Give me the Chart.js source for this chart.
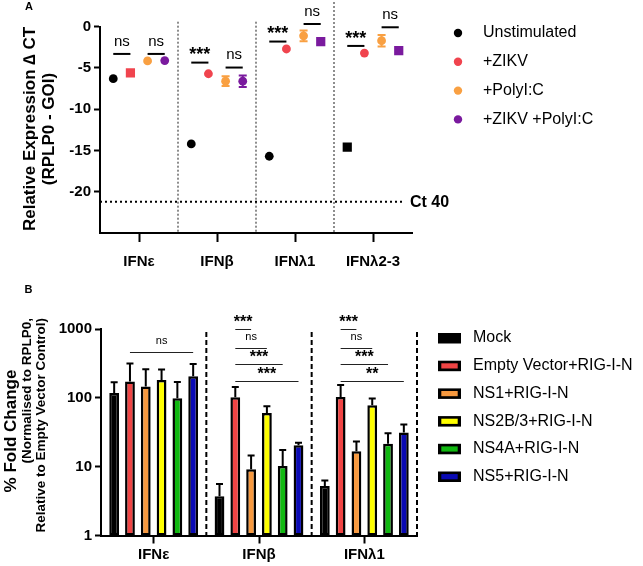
<!DOCTYPE html>
<html>
<head>
<meta charset="utf-8">
<script src="https://cdn.jsdelivr.net/npm/chart.js@4.4.0/dist/chart.umd.min.js"></script>
<style>
    body { margin: 0; background: #fff; }
    #chartA { position: absolute; left: 0; top: 0; }
    #chartB { position: absolute; left: 0; top: 285px; }
</style>
</head>
<body>
<canvas id="chartA" width="643" height="285"></canvas>
<canvas id="chartB" width="643" height="281"></canvas>
<script>
const FONT = '"Liberation Sans", Arial, sans-serif';

// ---- panel A : relative expression (delta CT) ----
const genesA = ['IFNε', 'IFNβ', 'IFNλ1', 'IFNλ2-3'];
const yTicksA = [0, -5, -10, -15, -20];
const unstim = [-6.3, -14.2, -15.7, -14.6];
const zikv = [-5.6, -5.7, -2.7, -3.2];
const polyIC = [-4.15, -6.6, -1.1, -1.7];
const zikvPolyIC = [-4.1, -6.6, -1.8, -2.9];
const unstimErr = [0, 0, 0, 0];
const zikvErr = [0, 0, 0, 0];
const polyICErr = [0, 0.6, 0.65, 0.7];
const zikvPolyICErr = [0, 0.7, 0, 0];
const unstimShape = ['circle', 'circle', 'circle', 'rect'];
const zikvShape = ['rect', 'circle', 'circle', 'circle'];
const polyICShape = ['circle', 'circle', 'circle', 'circle'];
const zikvPolyICShape = ['circle', 'circle', 'rect', 'rect'];
const ct40 = -21.2;
// [gene, from series, to series, label, y value]
const sigA = [
    [0, 0, 1, 'ns', -3.3], [0, 2, 3, 'ns', -3.3],
    [1, 0, 1, '***', -4.35], [1, 2, 3, 'ns', -4.95],
    [2, 0, 1, '***', -1.8], [2, 2, 3, 'ns', 0.33],
    [3, 0, 1, '***', -2.33], [3, 2, 3, 'ns', -0.07]
];

// ---- panel B : % fold change ----
const genesB = ['IFNε', 'IFNβ', 'IFNλ1'];
const yTicksB = [1, 10, 100, 1000];
const mock = [118, 3.73, 5.22];
const emptyVector = [173, 102, 103];
const ns1 = [146, 9.2, 16.7];
const ns2b3 = [182, 60.3, 78];
const ns4a = [99, 10.2, 21.6];
const ns5 = [206, 20.4, 31.3];
const mockErr = [51, 1.85, 1.1];
const emptyVectorErr = [143, 42, 51];
const ns1Err = [115, 5.3, 6.6];
const ns2b3Err = [76, 15.2, 19.7];
const ns4aErr = [71, 7.3, 8.9];
const ns5Err = [103, 1.9, 9.6];
// [gene, from series, to series, label, y value]
const sigB = [
    [0, 1, 5, 'ns', 466],
    [1, 1, 2, '***', 1000], [1, 1, 3, 'ns', 522], [1, 1, 4, '***', 305], [1, 1, 5, '***', 176],
    [2, 1, 2, '***', 1000], [2, 1, 3, 'ns', 522], [2, 1, 4, '***', 305], [2, 1, 5, '**', 176]
];

const seriesA = [
    { label: 'Unstimulated', values: unstim, err: unstimErr, shape: unstimShape, color: '#000000' },
    { label: '+ZIKV', values: zikv, err: zikvErr, shape: zikvShape, color: '#f0444e' },
    { label: '+PolyI:C', values: polyIC, err: polyICErr, shape: polyICShape, color: '#f9a042' },
    { label: '+ZIKV +PolyI:C', values: zikvPolyIC, err: zikvPolyICErr, shape: zikvPolyICShape, color: '#7a1a9e' }
];
const seriesB = [
    { label: 'Mock', values: mock, err: mockErr, color: '#000000' },
    { label: 'Empty Vector+RIG-I-N', values: emptyVector, err: emptyVectorErr, color: '#f04444' },
    { label: 'NS1+RIG-I-N', values: ns1, err: ns1Err, color: '#f7993f' },
    { label: 'NS2B/3+RIG-I-N', values: ns2b3, err: ns2b3Err, color: '#ffff00' },
    { label: 'NS4A+RIG-I-N', values: ns4a, err: ns4aErr, color: '#10b810' },
    { label: 'NS5+RIG-I-N', values: ns5, err: ns5Err, color: '#0a0ab4' }
];

const groupOffset = [-0.33, -0.11, 0.11, 0.33];

function sigText(ctx, label, x, y, big) {
    ctx.textAlign = 'center';
    ctx.textBaseline = 'alphabetic';
    ctx.fillStyle = '#000';
    if (label === 'ns') {
        ctx.font = (big ? '15px ' : '11px ') + FONT;
        ctx.fillText(label, x, y - (big ? 8.1 : 8.7));
    } else {
        ctx.font = 'bold ' + (big ? '18px ' : '16px ') + FONT;
        ctx.fillText(label, x, y - (big ? 2.3 : 3));
    }
}

function rotatedText(ctx, text, x, y, font, align) {
    ctx.save();
    ctx.translate(x, y);
    ctx.rotate(-Math.PI / 2);
    ctx.font = font;
    ctx.fillStyle = '#000';
    ctx.textAlign = align || 'center';
    ctx.textBaseline = 'middle';
    ctx.fillText(text, 0, 0);
    ctx.restore();
}

const panelAExtras = {
    id: 'panelAExtras',
    beforeDatasetsDraw(chart) {
        const { ctx, chartArea, scales: { x, y } } = chart;
        ctx.save();
        // dotted dividers between genes
        ctx.strokeStyle = '#444';
        ctx.lineWidth = 1.2;
        ctx.setLineDash([2, 2]);
        [0.5, 1.5, 2.5].forEach((b, i) => {
            const px = x.getPixelForValue(b);
            ctx.beginPath();
            ctx.moveTo(px, i === 2 ? 2 : chartArea.top - 5);
            ctx.lineTo(px, chartArea.bottom);
            ctx.stroke();
        });
        // Ct 40 line
        const cy = y.getPixelForValue(ct40);
        ctx.strokeStyle = '#000';
        ctx.lineWidth = 2;
        ctx.setLineDash([2, 3]);
        ctx.beginPath();
        ctx.moveTo(chartArea.left, cy);
        ctx.lineTo(chartArea.right - 7, cy);
        ctx.stroke();
        ctx.setLineDash([]);
        // error bars
        seriesA.forEach((s, k) => {
            ctx.strokeStyle = s.color;
            ctx.lineWidth = 2;
            s.values.forEach((v, i) => {
                if (!s.err[i]) return;
                const px = x.getPixelForValue(i + groupOffset[k]);
                const y1 = y.getPixelForValue(v + s.err[i]);
                const y2 = y.getPixelForValue(v - s.err[i]);
                ctx.beginPath();
                ctx.moveTo(px, y1); ctx.lineTo(px, y2);
                ctx.moveTo(px - 4, y1); ctx.lineTo(px + 4, y1);
                ctx.moveTo(px - 4, y2); ctx.lineTo(px + 4, y2);
                ctx.stroke();
            });
        });
        ctx.restore();
    },
    afterDatasetsDraw(chart) {
        const { ctx, chartArea, scales: { x, y } } = chart;
        ctx.save();
        // significance
        ctx.strokeStyle = '#000';
        ctx.lineWidth = 2;
        sigA.forEach(([g, a, b, label, v]) => {
            const x1 = x.getPixelForValue(g + groupOffset[a]);
            const x2 = x.getPixelForValue(g + groupOffset[b]);
            const py = y.getPixelForValue(v);
            ctx.beginPath();
            ctx.moveTo(x1, py); ctx.lineTo(x2, py);
            ctx.stroke();
            sigText(ctx, label, (x1 + x2) / 2, py, true);
        });
        // Ct 40 label
        ctx.font = 'bold 16px ' + FONT;
        ctx.textAlign = 'left';
        ctx.textBaseline = 'middle';
        ctx.fillText('Ct 40', chartArea.right - 2, y.getPixelForValue(ct40) + 1);
        // legend
        chart.data.datasets.forEach((ds, k) => {
            const ly = 33 + k * 28.8;
            ctx.fillStyle = ds.backgroundColor;
            ctx.beginPath();
            ctx.arc(458, ly, 4.2, 0, Math.PI * 2);
            ctx.fill();
            ctx.fillStyle = '#000';
            ctx.font = '16px ' + FONT;
            ctx.textAlign = 'left';
            ctx.textBaseline = 'middle';
            ctx.fillText(ds.label, 483, ly);
        });
        // axis title and panel letter
        rotatedText(ctx, 'Relative Expression ∆ CT', 30, 129, 'bold 17px ' + FONT);
        rotatedText(ctx, '(RPLP0 - GOI)', 49, 129, 'bold 17px ' + FONT);
        ctx.fillStyle = '#000';
        ctx.font = 'bold 11px ' + FONT;
        ctx.textAlign = 'center';
        ctx.textBaseline = 'middle';
        ctx.fillText('A', 29, 7);
        ctx.restore();
    }
};

const panelBExtras = {
    id: 'panelBExtras',
    beforeDatasetsDraw(chart) {
        const { ctx, chartArea, scales: { x } } = chart;
        ctx.save();
        ctx.strokeStyle = '#000';
        ctx.lineWidth = 2;
        ctx.setLineDash([5, 3]);
        const bounds = [
            (x.getPixelForValue(0) + x.getPixelForValue(1)) / 2,
            (x.getPixelForValue(1) + x.getPixelForValue(2)) / 2,
            chartArea.right
        ];
        bounds.forEach(px => {
            ctx.beginPath();
            ctx.moveTo(px, chartArea.top + 3);
            ctx.lineTo(px, chartArea.bottom);
            ctx.stroke();
        });
        ctx.restore();
    },
    afterDatasetsDraw(chart) {
        const { ctx, scales: { y } } = chart;
        ctx.save();
        // error bars (upper only)
        ctx.strokeStyle = '#000';
        ctx.lineWidth = 2;
        seriesB.forEach((s, k) => {
            const meta = chart.getDatasetMeta(k);
            s.values.forEach((v, i) => {
                const bar = meta.data[i];
                const top = y.getPixelForValue(v + s.err[i]);
                ctx.beginPath();
                ctx.moveTo(bar.x, bar.y); ctx.lineTo(bar.x, top);
                ctx.moveTo(bar.x - 3.5, top); ctx.lineTo(bar.x + 3.5, top);
                ctx.stroke();
            });
        });
        // significance
        ctx.lineWidth = 1;
        ctx.strokeStyle = '#222';
        sigB.forEach(([g, a, b, label, v]) => {
            const x1 = chart.getDatasetMeta(a).data[g].x;
            const x2 = chart.getDatasetMeta(b).data[g].x;
            const py = Math.round(y.getPixelForValue(v)) + 0.5;
            ctx.beginPath();
            ctx.moveTo(x1, py); ctx.lineTo(x2, py);
            ctx.stroke();
            sigText(ctx, label, (x1 + x2) / 2, py, false);
        });
        // legend
        chart.data.datasets.forEach((ds, k) => {
            const ly = 53 + k * 27.7;
            ctx.fillStyle = '#000';
            ctx.fillRect(438, ly - 5, 23, 10.5);
            ctx.fillStyle = ds.backgroundColor;
            ctx.fillRect(441.3, ly - 2.4, 16.4, 5.2);
            ctx.fillStyle = '#000';
            ctx.font = '16px ' + FONT;
            ctx.textAlign = 'left';
            ctx.textBaseline = 'middle';
            ctx.fillText(ds.label, 473, ly);
        });
        // axis title and panel letter
        rotatedText(ctx, '% Fold Change', 11, 146, 'bold 17px ' + FONT);
        rotatedText(ctx, '(Normalised to RPLP0,', 27.5, 33, 'bold 13.5px ' + FONT, 'right');
        rotatedText(ctx, 'Relative to Empty Vector Control)', 41, 33, 'bold 13.5px ' + FONT, 'right');
        ctx.fillStyle = '#000';
        ctx.font = 'bold 11px ' + FONT;
        ctx.textAlign = 'center';
        ctx.textBaseline = 'middle';
        ctx.fillText('B', 28.5, 4.5);
        ctx.restore();
    }
};

const axisTickFont = { family: FONT, size: 15, weight: 'bold' };

new Chart(document.getElementById('chartA'), {
    type: 'scatter',
    data: {
        datasets: seriesA.map((s, k) => ({
            label: s.label,
            data: s.values.map((v, i) => ({ x: i + groupOffset[k], y: v })),
            pointStyle: s.shape,
            pointRadius: s.shape.map(p => p === 'rect' ? 6.5 : 4.4),
            pointHoverRadius: s.shape.map(p => p === 'rect' ? 6.5 : 4.4),
            backgroundColor: s.color,
            borderColor: s.color,
            borderWidth: 0
        }))
    },
    options: {
        responsive: false,
        animation: false,
        layout: { padding: { top: 26.7, right: 231, left: 0, bottom: 0 } },
        plugins: { legend: { display: false }, tooltip: { enabled: false } },
        scales: {
            x: {
                type: 'linear',
                min: -0.5,
                max: 3.5,
                afterBuildTicks: s => { s.ticks = genesA.map((g, i) => ({ value: i })); },
                afterFit: s => { s.height = 52; },
                ticks: { callback: v => genesA[v], font: axisTickFont, color: '#000', padding: 11, maxRotation: 0, autoSkip: false },
                grid: { drawOnChartArea: false, drawTicks: true, tickLength: 9, tickWidth: 2, tickColor: '#000' },
                border: { display: true, color: '#000', width: 2 }
            },
            y: {
                min: -25,
                max: 0,
                afterBuildTicks: s => { s.ticks = yTicksA.map(v => ({ value: v })); },
                afterFit: s => { s.width = 100; },
                ticks: { callback: v => String(v), font: axisTickFont, color: '#000', padding: 3 },
                grid: { drawOnChartArea: false, drawTicks: true, tickLength: 6, tickWidth: 2, tickColor: '#000' },
                border: { display: true, color: '#000', width: 2 }
            }
        }
    },
    plugins: [panelAExtras]
});

new Chart(document.getElementById('chartB'), {
    type: 'bar',
    data: {
        labels: genesB,
        datasets: seriesB.map(s => ({
            label: s.label,
            data: s.values,
            backgroundColor: s.color,
            borderColor: '#000',
            borderWidth: 2.5,
            borderSkipped: false,
            categoryPercentage: 0.9,
            barPercentage: 0.62
        }))
    },
    options: {
        responsive: false,
        animation: false,
        layout: { padding: { top: 44, right: 226, left: 0, bottom: 0 } },
        plugins: { legend: { display: false }, tooltip: { enabled: false } },
        scales: {
            x: {
                afterFit: s => { s.height = 30.5; },
                ticks: { font: axisTickFont, color: '#000', padding: 2, maxRotation: 0, autoSkip: false },
                grid: { offset: false, drawOnChartArea: false, drawTicks: true, tickLength: 8, tickWidth: 2, tickColor: '#000' },
                border: { display: true, color: '#000', width: 2 }
            },
            y: {
                type: 'logarithmic',
                min: 1,
                max: 1000,
                afterBuildTicks: s => { s.ticks = yTicksB.map(v => ({ value: v })); },
                afterFit: s => { s.width = 101; },
                ticks: { callback: v => String(v), font: axisTickFont, color: '#000', padding: 3 },
                grid: { drawOnChartArea: false, drawTicks: true, tickLength: 6, tickWidth: 2, tickColor: '#000' },
                border: { display: true, color: '#000', width: 2 }
            }
        }
    },
    plugins: [panelBExtras]
});
</script>
</body>
</html>
